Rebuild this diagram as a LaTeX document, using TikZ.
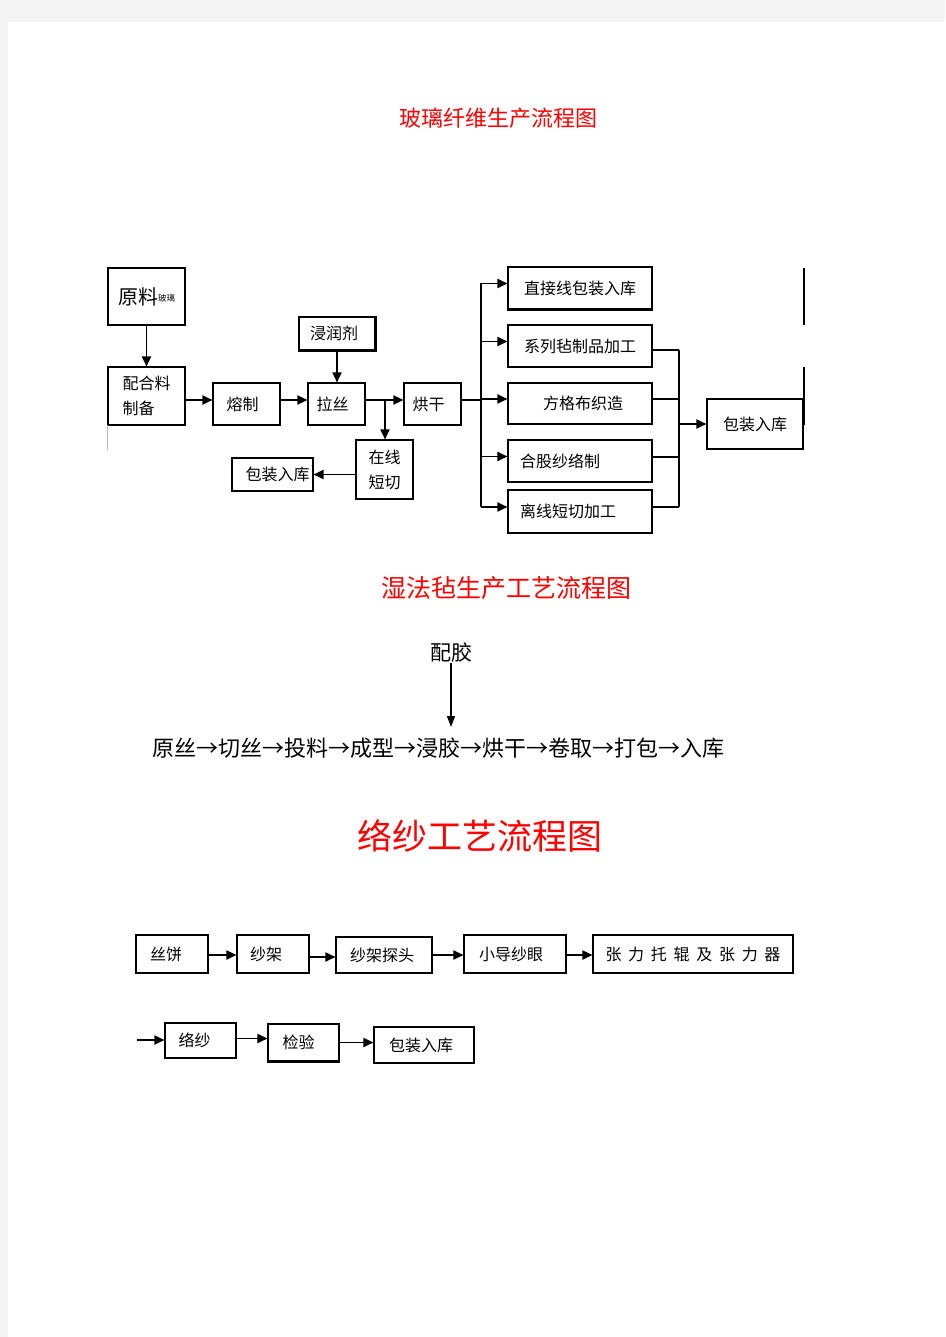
\documentclass[tikz,border=0pt]{standalone}
\usepackage{fontspec}
\setmainfont{Noto Sans CJK SC}
\usetikzlibrary{arrows.meta}
\definecolor{pagegray}{RGB}{244,244,244}
\definecolor{titlered}{RGB}{255,0,0}
\begin{document}
\begin{tikzpicture}[x=1pt,y=-1pt,
  box/.style={draw=black, line width=1.1pt, inner sep=0pt, align=center, font=\fontsize{16}{25}\selectfont},
  arr/.style={line width=1.8pt, -{Triangle[length=10pt,width=9pt]}},
  ln/.style={line width=1.8pt},
  thin/.style={line width=1.1pt},
  title/.style={text=titlered, inner sep=0pt},
  plain/.style={inner sep=0pt, text=black}
  ]
\fill[pagegray] (0,0) rectangle (945,1337);
\fill[white] (8,22) rectangle (945,1337);
\useasboundingbox (0,0) rectangle (945,1337);

% ---------- Section 1 ----------
\node[title, font=\fontsize{22}{22}\selectfont] (t1) at (498,118) {玻璃纤维生产流程图};

\node[box, minimum width=77, minimum height=57] (yl) at (146.5,296.5) {\fontsize{20}{20}\selectfont 原料\raisebox{3pt}{\fontsize{8.5}{8.5}\selectfont 玻璃}};
\node[box, minimum width=77, minimum height=58, align=left] (ph) at (146.5,396) {配合料\\制备};
\node[box, minimum width=67, minimum height=42] (rz) at (246.5,404) {熔制\hspace*{8pt}};
\node[box, minimum width=76, minimum height=33] (jr) at (337,333.5) {浸润剂\hspace*{6pt}};
\node[box, minimum width=57, minimum height=42] (ls) at (336.5,404) {拉丝\hspace*{8pt}};
\node[box, minimum width=57, minimum height=42] (hg) at (432.5,404) {烘干\hspace*{8pt}};
\node[box, minimum width=57, minimum height=59] (zx) at (384.5,469.5) {在线\\短切};
\node[box, minimum width=81, minimum height=33] (bzL) at (272.5,474.5) {\hspace*{10pt}包装入库};

\node[box, minimum width=144, minimum height=42] (r1) at (580,288) {直接线包装入库};
\node[box, minimum width=144, minimum height=42] (r2) at (580,346) {系列毡制品加工};
\node[box, minimum width=144, minimum height=41] (r3) at (580,403.5) {\hspace*{6pt}方格布织造};
\node[box, minimum width=144, minimum height=42] (r4) at (580,461) {合股纱络制\hspace*{40pt}};
\node[box, minimum width=144, minimum height=43] (r5) at (580,511.5) {离线短切加工\hspace*{24pt}};
\node[box, minimum width=96, minimum height=50] (bzR) at (755,424) {包装入库};

% heavier edges
\draw[line width=2.2pt] (r1.south west) -- (r1.south east);
\draw[line width=2pt] (jr.south west) -- (jr.south east) -- (jr.north east);

% table-border remnants
\draw[thin] (804,268) -- (804,325);
\draw[thin] (804,367) -- (804,425);
\draw[line width=0.8pt, gray!60] (107,425) -- (107,450);

% connectors
\draw[arr] (yl.south) -- (ph.north);
\draw[arr] ([yshift=-4pt]ph.east) -- ([yshift=4pt]rz.west);
\draw[arr] ([yshift=4pt]rz.east) -- ([yshift=4pt]ls.west);
\draw[arr] (jr.south) -- (jr.south |- ls.north);
\draw[arr] ([yshift=4pt]ls.east) -- ([yshift=4pt]hg.west);
\coordinate (b1) at (385,400);
\draw[arr] (b1) -- (b1 |- zx.north);
\draw[arr] (zx.west |- bzL.east) -- (bzL.east);

\coordinate (b2) at (481,400);
\draw[ln] ([yshift=4pt]hg.east) -- (b2);
\coordinate (b2t) at ([yshift=4.5pt]r1.west -| b2);
\coordinate (b2b) at ([yshift=4.5pt]r5.west -| b2);
\draw[ln] (b2t) -- (b2b);
\foreach \r in {r1,r2,r3,r4,r5}{
  \draw[arr] ([yshift=4.5pt]\r.west -| b2) -- ([yshift=4.5pt]\r.west);
}
\coordinate (c2) at (679,350);
\draw[ln] ([yshift=-4pt]r2.east) -- (c2);
\draw[thin] ([yshift=4.5pt]r3.east) -- ([yshift=4.5pt]r3.east -| c2);
\draw[thin] ([yshift=4pt]r4.east) -- ([yshift=4pt]r4.east -| c2);
\draw[thin] ([yshift=4.5pt]r5.east) -- ([yshift=4.5pt]r5.east -| c2);
\draw[thin] (c2) -- ([yshift=4.5pt]r5.east -| c2);
\draw[arr] (c2 |- bzR.west) -- (bzR.west);

% ---------- Section 2 ----------
\node[title, font=\fontsize{25}{25}\selectfont] (t2) at (506,588) {湿法毡生产工艺流程图};
\node[plain, font=\fontsize{21}{21}\selectfont] (pj) at (451,653) {配胶};
\node[plain, font=\fontsize{22}{22}\selectfont] (flow) at (438.5,748) {原丝→切丝→投料→成型→浸胶→烘干→卷取→打包→入库};
\coordinate (pjend) at (451,727);
\draw[line width=1.4pt, -{Triangle[length=11pt,width=8pt]}] (pj.south) -- (pjend);

% ---------- Section 3 ----------
\node[title, font=\fontsize{35}{35}\selectfont] (t3) at (480,836) {络纱工艺流程图};

\node[box, minimum width=72, minimum height=38] (sb) at (172,954) {丝饼\hspace*{12pt}};
\node[box, minimum width=72, minimum height=38] (sj) at (273,954) {纱架\hspace*{14pt}};
\node[box, minimum width=96, minimum height=36] (tt) at (384,955) {纱架探头\hspace*{4pt}};
\node[box, minimum width=102, minimum height=38] (xd) at (515,954) {小导纱眼\hspace*{8pt}};
\node[box, minimum width=200, minimum height=38] (zl) at (693,954) {{\spaceskip=6.7pt 张 力 托 辊 及 张 力 器}};

\node[box, minimum width=71, minimum height=35] (lsh) at (200.5,1040.5) {络纱\hspace*{12pt}};
\node[box, minimum width=71, minimum height=37] (jy) at (303.5,1042.5) {检验\hspace*{10pt}};
\node[box, minimum width=100, minimum height=36] (bz3) at (424,1045) {包装入库\hspace*{6pt}};
\draw[line width=2.2pt] (jy.south west) -- (jy.south east);

\draw[arr] ([yshift=-1pt]sb.east) -- ([yshift=-1pt]sj.west);
\draw[arr] ([yshift=-3pt]sj.east) -- ([yshift=-2pt]tt.west);
\draw[arr] (tt.east) -- ([yshift=-1pt]xd.west);
\draw[arr] ([yshift=-1pt]xd.east) -- ([yshift=-1pt]zl.west);

\coordinate (s2) at (137,1040);
\draw[arr] (s2) -- (lsh.west |- s2);
\draw[arr] ([yshift=2pt]lsh.east) -- ([yshift=4pt]jy.west);
\draw[arr] (jy.east) -- (bz3.west |- jy.east);
\end{tikzpicture}
\end{document}
